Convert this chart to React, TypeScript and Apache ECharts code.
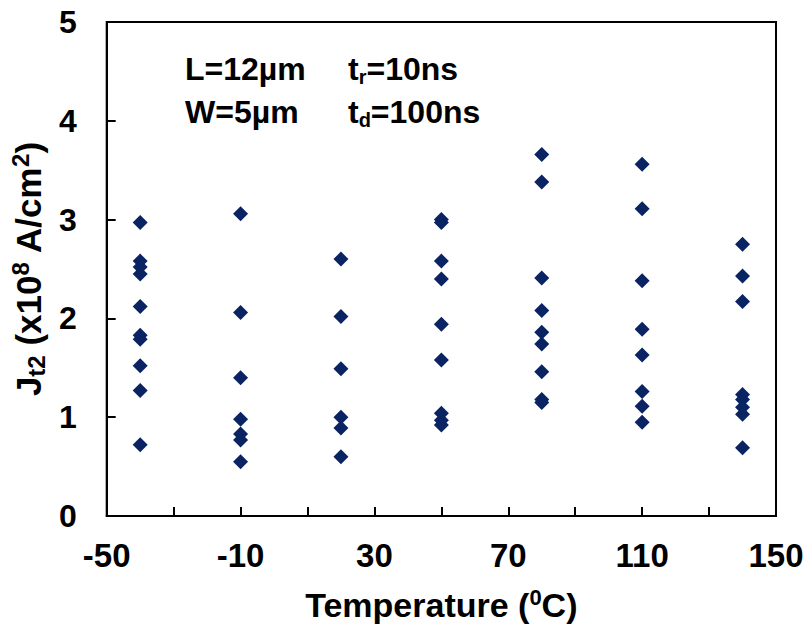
import React, { useEffect, useRef } from "react";
import * as echarts from "echarts";

const temperatures = [-40, -10, 20, 50, 80, 110, 140];
const jt2AtMinus40 = [2.97, 2.58, 2.52, 2.45, 2.12, 1.83, 1.79, 1.52, 1.27, 0.72];
const jt2AtMinus10 = [3.06, 2.06, 1.4, 0.98, 0.83, 0.77, 0.55];
const jt2At20 = [2.6, 2.02, 1.49, 1.0, 0.89, 0.6];
const jt2At50 = [3.0, 2.97, 2.58, 2.4, 1.94, 1.58, 1.04, 0.97, 0.92];
const jt2At80 = [3.66, 3.38, 2.41, 2.08, 1.86, 1.74, 1.46, 1.18, 1.15];
const jt2At110 = [3.56, 3.11, 2.38, 1.89, 1.63, 1.26, 1.11, 0.95];
const jt2At140 = [2.75, 2.43, 2.17, 1.23, 1.18, 1.1, 1.03, 0.69];
const jt2Groups = [jt2AtMinus40, jt2AtMinus10, jt2At20, jt2At50, jt2At80, jt2At110, jt2At140];
const xLabelValues = [-50, -10, 30, 70, 110, 150];

const FONT = "'Liberation Sans', Arial, sans-serif";

export default function App() {
  const ref = useRef<HTMLDivElement>(null);
  useEffect(() => {
    if (!ref.current) return;
    const chart = echarts.init(ref.current, null, { renderer: "svg" });
    const data: number[][] = [];
    temperatures.forEach((t, i) => {
      jt2Groups[i].forEach((v) => data.push([t, v]));
    });
    const base = { fontWeight: "bold", fontFamily: FONT, color: "#000" };
    const annMain = { ...base, fontSize: 32, lineHeight: 36 };
    const annSub = { ...base, fontSize: 20, verticalAlign: "bottom", lineHeight: 20 };
    chart.setOption({
      animation: false,
      backgroundColor: "#fff",
      grid: {
        left: 98,
        top: 22,
        right: 33,
        bottom: 110,
        show: true,
        borderColor: "#000",
        borderWidth: 2,
        backgroundColor: "transparent",
      },
      xAxis: {
        type: "value",
        min: -50,
        max: 150,
        interval: 20,
        splitLine: { show: false },
        axisLine: { show: true, onZero: false, lineStyle: { color: "#000", width: 2 } },
        axisTick: { show: true, inside: true, length: 9, lineStyle: { color: "#000", width: 2 } },
        axisLabel: {
          margin: 23,
          fontSize: 33,
          ...base,
          formatter: (v: number) => (xLabelValues.includes(v) ? String(v) : ""),
        },
        name: "{m|Temperature (}{sup|0}{m|C)}",
        nameLocation: "middle",
        nameGap: 70,
        nameTextStyle: {
          ...base,
          fontSize: 34,
          rich: {
            m: { ...base, fontSize: 34, lineHeight: 38 },
            sup: { ...base, fontSize: 22, verticalAlign: "top", lineHeight: 22 },
          },
        },
      },
      yAxis: {
        type: "value",
        min: 0,
        max: 5,
        interval: 1,
        splitLine: { show: false },
        axisLine: { show: true, onZero: false, lineStyle: { color: "#000", width: 2 } },
        axisTick: { show: true, inside: true, length: 9, lineStyle: { color: "#000", width: 2 } },
        axisLabel: {
          margin: 30,
          fontSize: 32,
          ...base,
        },
        name: "{m|J}{sub|t2}{m| (x10}{sup|8}{m| A/cm}{sup|2}{m|)}",
        nameLocation: "middle",
        nameGap: 50,
        nameTextStyle: {
          ...base,
          fontSize: 35,
          rich: {
            m: { ...base, fontSize: 35, lineHeight: 40 },
            sub: { ...base, fontSize: 24, verticalAlign: "bottom", lineHeight: 24 },
            sup: { ...base, fontSize: 24, verticalAlign: "top", lineHeight: 24 },
          },
        },
      },
      graphic: [
        {
          type: "text",
          left: 185,
          top: 53,
          style: { text: "{m|L=12µm}", rich: { m: annMain } },
        },
        {
          type: "text",
          left: 185,
          top: 96,
          style: { text: "{m|W=5µm}", rich: { m: annMain } },
        },
        {
          type: "text",
          left: 348,
          top: 53,
          style: { text: "{m|t}{sub|r}{m|=10ns}", rich: { m: annMain, sub: annSub } },
        },
        {
          type: "text",
          left: 348,
          top: 96,
          style: { text: "{m|t}{sub|d}{m|=100ns}", rich: { m: annMain, sub: annSub } },
        },
      ],
      series: [
        {
          type: "scatter",
          symbol: "diamond",
          symbolSize: 15,
          itemStyle: { color: "#0a2463", opacity: 1 },
          data,
        },
      ],
    });
    return () => chart.dispose();
  }, []);
  return (
    <div
      ref={ref}
      style={{ position: "absolute", left: 0, top: 0, width: 809, height: 627 }}
    />
  );
}
